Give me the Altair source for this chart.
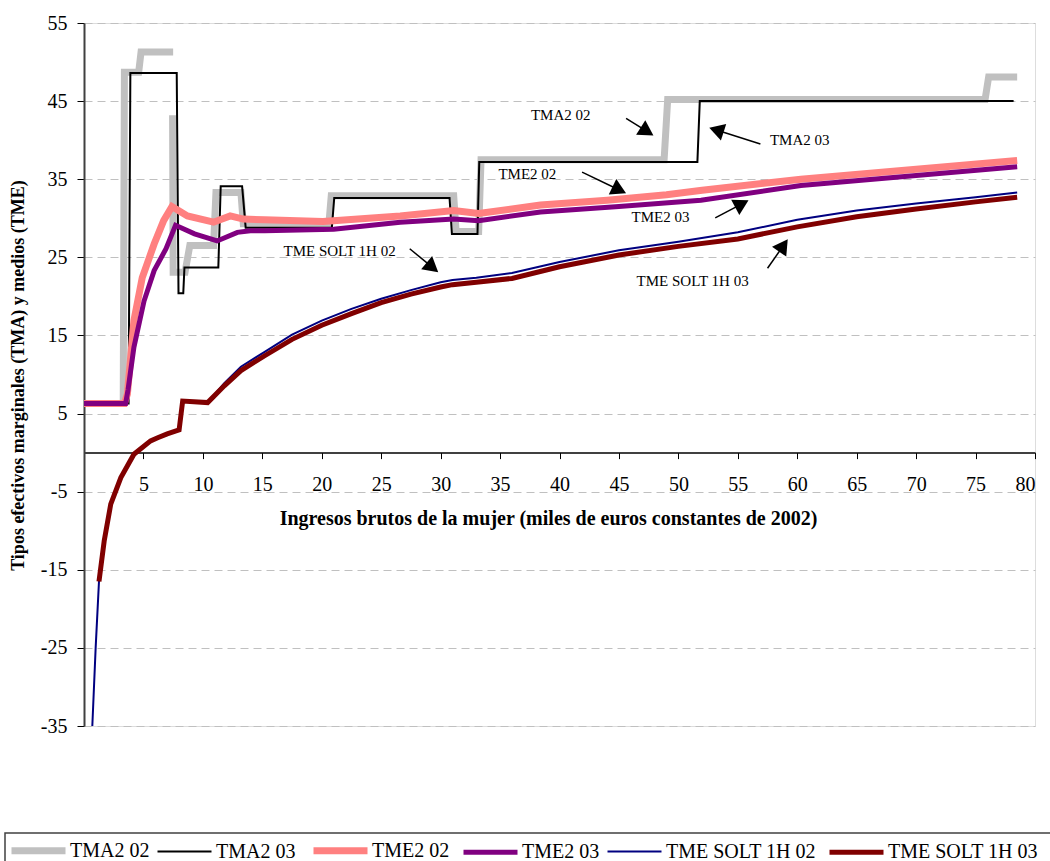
import math
import altair as alt
import pandas as pd

FONT = "Liberation Serif"

series_names = ["TMA2 02", "TMA2 03", "TME2 02", "TME2 03", "TME SOLT 1H 02", "TME SOLT 1H 03"]
series_colors = ["#c0c0c0", "#000000", "#ff8080", "#800080", "#000080", "#800000"]
series_widths = [7, 2, 7, 5, 2, 5]

# TMA2 02 (two pieces, the line is broken in the original)
tma2_02_a_x = [0, 3.3, 3.4, 4.6, 4.8, 7.5]
tma2_02_a_y = [6.3, 6.3, 48.7, 48.7, 51.3, 51.3]
tma2_02_b_x = [7.45, 7.5, 8.5, 8.9, 10.9, 11.1, 13.2, 13.4, 20.6, 20.8, 31.1, 31.3, 33.2, 33.4, 48.8, 49.1, 75.8, 76.1, 78.5]
tma2_02_b_y = [43.2, 23.1, 23.1, 26.5, 26.5, 33.3, 33.3, 29.3, 29.3, 32.9, 32.9, 28.3, 28.3, 37.5, 37.5, 45.2, 45.2, 48.1, 48.1]

# TMA2 03
tma2_03_x = [0, 3.75, 3.9, 7.8, 7.95, 8.35, 8.45, 11.3, 11.5, 13.3, 13.6, 20.85, 21.05, 30.75, 30.95, 33.1, 33.25, 51.6, 51.8, 78.2]
tma2_03_y = [6.3, 6.3, 48.6, 48.6, 20.4, 20.4, 23.7, 23.7, 34.1, 34.1, 28.8, 28.8, 32.6, 32.6, 28.0, 28.0, 37.2, 37.2, 45.0, 45.0]

# TME2 02
tme2_02_x = [0, 3.4, 3.65, 4.2, 4.9, 5.9, 6.7, 7.4, 8.7, 10.9, 12.3, 13.4, 15.2, 20.1, 26.6, 31.1, 33.2, 38.4, 44.0, 49.0, 52.0, 60.3, 78.5]
tme2_02_y = [6.3, 6.3, 7.5, 16.9, 22.4, 26.7, 29.7, 31.5, 30.3, 29.5, 30.3, 29.9, 29.8, 29.6, 30.3, 31.0, 30.6, 31.7, 32.3, 33.0, 33.6, 35.0, 37.4]

# TME2 03
tme2_03_x = [0, 3.5, 3.7, 4.2, 5.05, 5.9, 6.9, 7.7, 9.3, 11.2, 12.9, 14.0, 15.2, 21.0, 26.6, 31.1, 33.2, 38.4, 45.0, 51.9, 60.3, 78.5]
tme2_03_y = [6.3, 6.3, 8.0, 13.5, 19.4, 23.3, 26.1, 29.1, 28.0, 27.1, 28.2, 28.4, 28.4, 28.6, 29.5, 29.9, 29.7, 30.8, 31.5, 32.3, 34.2, 36.6]

# TME SOLT 1H 02
solt_02_x = [0.7, 0.98, 1.26, 1.7, 2.25, 3.1, 4.2, 5.6, 6.2, 7.0, 8.0, 8.3, 10.4, 11.8, 13.2, 15.2, 17.5, 20.0, 22.5, 25.0, 27.5, 30.0, 31.0, 33.0, 36.0, 40.0, 45.0, 50.0, 55.0, 60.0, 65.0, 70.0, 75.0, 78.5]
solt_02_y = [-35.0, -25.0, -16.5, -11.3, -6.6, -3.2, -0.2, 1.5, 1.9, 2.4, 2.9, 6.6, 6.4, 8.9, 11.0, 12.9, 15.1, 16.9, 18.4, 19.7, 20.8, 21.8, 22.1, 22.4, 23.0, 24.4, 25.9, 27.0, 28.2, 29.8, 31.0, 31.9, 32.7, 33.3]

# TME SOLT 1H 03
solt_03_x = [1.26, 1.7, 2.25, 3.1, 4.2, 5.6, 6.2, 7.0, 8.0, 8.3, 10.4, 11.8, 13.2, 15.2, 17.5, 20.0, 22.5, 25.0, 27.5, 30.0, 31.0, 33.0, 36.0, 40.0, 45.0, 50.0, 55.0, 60.0, 65.0, 70.0, 75.0, 78.5]
solt_03_y = [-16.5, -11.3, -6.6, -3.2, -0.2, 1.5, 1.9, 2.4, 2.9, 6.6, 6.4, 8.55, 10.5, 12.4, 14.5, 16.3, 17.8, 19.2, 20.3, 21.2, 21.5, 21.8, 22.3, 23.8, 25.3, 26.4, 27.35, 28.9, 30.2, 31.2, 32.1, 32.7]

# annotations (data units)
ann_labels = ["TMA2 02", "TMA2 03", "TME2 02", "TME2 03", "TME SOLT 1H 02", "TME SOLT 1H 03"]
ann_text_x = [40.1, 57.7, 37.3, 48.5, 21.5, 51.2]
ann_text_y = [43.2, 40.0, 35.7, 30.2, 25.85, 22.0]
ann_align = ["center", "left", "center", "center", "center", "center"]
arrow_tail_x = [45.6, 56.9, 41.9, 53.1, 27.4, 57.5]
arrow_tail_y = [42.8, 39.5, 35.9, 30.05, 26.1, 23.6]
arrow_head_x = [47.9, 52.6, 45.6, 55.9, 29.8, 59.2]
arrow_head_y = [40.6, 41.6, 33.2, 32.3, 23.1, 27.3]

x_ticks = [5, 10, 15, 20, 25, 30, 35, 40, 45, 50, 55, 60, 65, 70, 75, 80]
y_ticks = [55, 45, 35, 25, 15, 5, -5, -15, -25, -35]

W, H = 951, 703
XMIN, XMAX, YMIN, YMAX = 0, 80, -35, 55
sx = W / (XMAX - XMIN)
sy = H / (YMAX - YMIN)

def frame(name, xs, ys, seg=0):
    return pd.DataFrame({"serie": name, "seg": seg, "x": xs, "y": ys})

line_data = [
    pd.concat([frame("TMA2 02", tma2_02_a_x, tma2_02_a_y, 0), frame("TMA2 02", tma2_02_b_x, tma2_02_b_y, 1)]),
    frame("TMA2 03", tma2_03_x, tma2_03_y),
    frame("TME2 02", tme2_02_x, tme2_02_y),
    frame("TME2 03", tme2_03_x, tme2_03_y),
    frame("TME SOLT 1H 02", solt_02_x, solt_02_y),
    frame("TME SOLT 1H 03", solt_03_x, solt_03_y),
]

XS = alt.Scale(domain=[XMIN, XMAX], nice=False, zero=False)
YS = alt.Scale(domain=[YMIN, YMAX], nice=False, zero=False)

X = alt.X(
    "x:Q", scale=XS,
    axis=alt.Axis(
        values=x_ticks, labelExpr="toString(datum.value)", offset=-(0 - YMIN) * sy, grid=False,
        domainColor="black", domainWidth=1.5, tickColor="black", tickSize=6,
        labelPadding=16, labelFont=FONT, labelFontSize=20, labelColor="black",
        title="Ingresos brutos de la mujer (miles de euros constantes de 2002)",
        titleFont=FONT, titleFontSize=20, titleFontWeight="bold", titleColor="black",
        titleX=464, titleY=72, titleBaseline="alphabetic", titleAlign="center",
    ),
)
Y = alt.Y(
    "y:Q", scale=YS,
    axis=alt.Axis(
        values=y_ticks, labelExpr="toString(datum.value)", grid=True, gridColor="#c0c0c0", gridDash=[8, 5], gridWidth=1,
        domainColor="#404040", domainWidth=2, tickColor="black", tickSize=7,
        labelPadding=10, labelFont=FONT, labelFontSize=20, labelColor="black",
        title="Tipos efectivos marginales (TMA) y medios (TME)",
        titleFont=FONT, titleFontSize=18, titleFontWeight="bold", titleColor="black",
        titleX=-66, titleY=352, titleAngle=270, titleBaseline="middle", titleAlign="center",
    ),
)

legend = alt.Legend(
    title=None, orient="none", legendX=-76, legendY=797, direction="horizontal", columns=6,
    symbolType="stroke", symbolSize=2916, labelFont=FONT, labelFontSize=20, labelColor="black",
    labelOffset=1, columnPadding=3, padding=0, labelLimit=300,
)
COLOR = alt.Color("serie:N", scale=alt.Scale(domain=series_names, range=series_colors), legend=legend)
SW = alt.StrokeWidth("serie:N", scale=alt.Scale(type="ordinal", domain=series_names, range=series_widths), legend=legend)

# legend frame (decoration in pixel space)
frame_box = alt.Chart(pd.DataFrame({"k": [0]})).mark_rect(
    fill="white", stroke="#404040", strokeWidth=1.5
).encode(x=alt.value(-79), x2=alt.value(W + 30), y=alt.value(810), y2=alt.value(860))

layers = []
for df in line_data:
    layers.append(
        alt.Chart(df).mark_line(strokeJoin="miter").encode(
            x=X, y=Y, color=COLOR, strokeWidth=SW, detail="seg:N", order="idx:Q"
        ).transform_window(idx="row_number()", groupby=["seg"])
    )

# arrows
tri_size = 300
r = math.sqrt(tri_size) / 2
h = math.sqrt(3) * r / 2
shaft_rows, head_rows = [], []
for tx, ty, hx, hy in zip(arrow_tail_x, arrow_tail_y, arrow_head_x, arrow_head_y):
    dxp = (hx - tx) * sx
    dyp = -(hy - ty) * sy
    L = math.hypot(dxp, dyp)
    ux, uy = dxp / L, dyp / L
    ang = math.degrees(math.atan2(ux, -uy)) % 360
    cx = hx - h * ux / sx
    cy = hy + h * uy / sy
    shaft_rows.append({"x": tx, "y": ty, "x2": cx, "y2": cy})
    head_rows.append({"x": cx, "y": cy, "angle": ang})

shafts = alt.Chart(pd.DataFrame(shaft_rows)).mark_rule(color="black", strokeWidth=1.5).encode(
    x=X, y=Y, x2=alt.X2("x2:Q"), y2=alt.Y2("y2:Q")
)
heads = alt.Chart(pd.DataFrame(head_rows)).mark_point(
    shape="triangle-up", filled=True, size=tri_size, color="black", opacity=1
).encode(x=X, y=Y, angle=alt.Angle("angle:Q", scale=None))

ann = pd.DataFrame({"x": ann_text_x, "y": ann_text_y, "t": ann_labels, "al": ann_align})
texts = []
for al in ["center", "left"]:
    texts.append(
        alt.Chart(ann[ann["al"] == al]).mark_text(font=FONT, fontSize=15, color="black", align=al, baseline="middle").encode(
            x=X, y=Y, text="t:N"
        )
    )

chart = alt.layer(frame_box, *layers, shafts, heads, *texts).properties(
    width=W, height=H,
    padding={"left": 84, "top": 23, "right": 15, "bottom": 135},
    autosize=alt.AutoSizeParams(type="none"),
).configure_view(stroke="#808080", strokeWidth=2).configure(background="white")

chart.save("out.html", embed_options={"renderer": "svg", "actions": False})
